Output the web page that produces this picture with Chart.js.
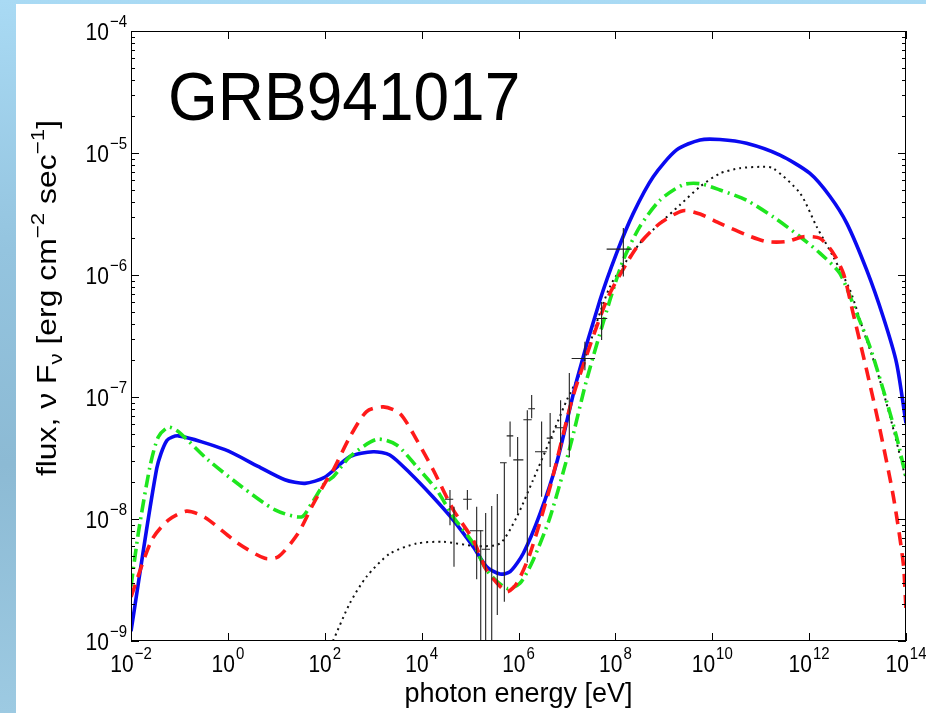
<!DOCTYPE html>
<html>
<head>
<meta charset="utf-8">
<title>GRB941017 spectrum</title>
<script src="https://cdn.jsdelivr.net/npm/chart.js@4.4.0/dist/chart.umd.min.js"></script>
<style>
  html, body { margin: 0; padding: 0; }
  body {
    width: 926px; height: 713px; overflow: hidden; position: relative;
    background: linear-gradient(to bottom, #a9daf4 0%, #94c4df 35%, #8cbad4 65%, #9dcae2 100%);
  }
  #panel { position: absolute; left: 16px; top: 4px; right: 0; bottom: 0; background: #fff; }
  #wrap { position: absolute; left: 0; top: 0; width: 926px; height: 713px; }
</style>
</head>
<body>
<div id="panel"></div>
<div id="wrap"><canvas id="sed" width="926" height="713"></canvas></div>
<script>
// photon energy [eV] and nu F_nu flux [erg cm^-2 s^-1] of the model curves

// solid blue model
const blueE = [1e-2, 3.4e-2, 5.5e-2, 9.5e-2, 0.87, 4.2, 15, 39, 100, 330, 1000, 2200, 5800, 1.7e4, 4.5e4,
  1.17e5, 2.2e5, 4.15e5, 6.7e5, 1.26e6, 2.8e6, 6.1e6, 1.6e7, 4.8e7, 1.06e8, 2.34e8, 6.05e8, 1.84e9,
  5.6e9, 1.44e10, 5.1e10, 2.5e11, 1.04e12, 2.7e12, 6.0e12, 1.54e13, 3.4e13, 6.4e13, 1e14];
const blueF = [1.2e-9, 2.6e-8, 4.4e-8, 4.8e-8, 3.7e-8, 2.7e-8, 2.1e-8, 1.96e-8, 2.2e-8, 3.24e-8, 3.56e-8,
  3.35e-8, 2.37e-8, 1.52e-8, 9.8e-9, 5.9e-9, 4.06e-9, 3.54e-9, 3.7e-9, 5.24e-9, 1.11e-8, 2.86e-8, 1.38e-7,
  6.2e-7, 1.51e-6, 3.2e-6, 6.4e-6, 1.06e-5, 1.28e-5, 1.29e-5, 1.2e-5, 9.6e-6, 6.8e-6, 4.4e-6, 2.65e-6,
  1.1e-6, 4.5e-7, 1.89e-7, 6.1e-8];

// green dash-dot model
const greenE = [1e-2, 1.42e-2, 2.47e-2, 3.66e-2, 5.9e-2, 9.5e-2, 0.39, 1.93, 9.4, 33, 54, 100, 150, 330,
  1180, 3050, 7900, 2.05e4, 4.5e4, 1.17e5, 2.2e5, 5.7e5, 1.07e6, 2.0e6, 4.5e6, 1.16e7, 2.55e7, 7.7e7,
  1.46e8, 3.2e8, 8.3e8, 2.5e9, 5.6e9, 1.44e10, 5.1e10, 1.8e11, 6.5e11, 1.67e12, 4.3e12, 9.6e12, 1.8e13,
  3.4e13, 6.4e13, 1e14];
const greenF = [2.8e-9, 7.7e-9, 2.7e-8, 4.7e-8, 5.65e-8, 5.2e-8, 3.05e-8, 1.84e-8, 1.19e-8, 1.04e-8,
  1.35e-8, 1.97e-8, 2.22e-8, 3.24e-8, 4.5e-8, 4.05e-8, 2.69e-8, 1.73e-8, 1.04e-8, 6.3e-9, 3.8e-9, 2.7e-9,
  2.97e-9, 4.6e-9, 1.04e-8, 3.9e-8, 1.38e-7, 6.2e-7, 1.33e-6, 2.49e-6, 4.1e-6, 5.5e-6, 5.6e-6, 4.98e-6,
  4.1e-6, 3.0e-6, 2.06e-6, 1.51e-6, 1.03e-6, 4.85e-7, 2.58e-7, 1.14e-7, 4.7e-8, 2.2e-8];

// red dashed model
const redE = [1e-2, 2.67e-2, 5.9e-2, 0.141, 0.337, 1.64, 5.8, 11, 28, 54, 100, 150, 330, 730, 1620, 3600,
  7900, 1.74e4, 4.5e4, 1.17e5, 2.2e5, 5.7e5, 9.2e5, 1.73e6, 4.5e6, 1.16e7, 1.71e7, 6.6e7, 1.71e8, 3.2e8,
  8.3e8, 2.5e9, 5.6e9, 1.44e10, 5.1e10, 1.33e11, 3.44e11, 7.6e11, 1.67e12, 3.15e12, 5.1e12, 8.1e12,
  1.54e13, 2.9e13, 5.5e13, 8.8e13, 1e14];
const redF = [2.3e-9, 6.7e-9, 9.8e-9, 1.16e-8, 1.03e-8, 6.3e-9, 4.76e-9, 4.9e-9, 7.6e-9, 1.26e-8, 1.96e-8,
  2.52e-8, 4.7e-8, 7.6e-8, 8.3e-8, 7.3e-8, 4.45e-8, 2.52e-8, 1.19e-8, 6.7e-9, 3.8e-9, 2.54e-9, 2.97e-9,
  5.2e-9, 1.84e-8, 8.3e-8, 1.38e-7, 6.2e-7, 1.25e-6, 1.82e-6, 2.65e-6, 3.37e-6, 3.16e-6, 2.65e-6, 2.13e-6,
  1.88e-6, 1.88e-6, 2.06e-6, 2.0e-6, 1.51e-6, 1.03e-6, 4.85e-7, 1.66e-7, 5.4e-8, 1.52e-8, 4.3e-9, 1.8e-9];

// black dotted model
const dotE = [148, 330, 730, 2200, 7900, 2.8e4, 1.37e5, 4.15e5, 9.2e5, 2.0e6, 4.5e6, 9.9e6, 1.86e7, 7.7e7,
  3.2e8, 8.3e8, 2.15e9, 5.6e9, 1.44e10, 3.7e10, 9.7e10, 1.8e11, 6.5e11, 1.43e12, 3.15e12, 7.0e12, 1.31e13,
  2.5e13, 4.7e13, 1e14];
const dotF = [1e-9, 2.04e-9, 3.37e-9, 5.2e-9, 6.3e-9, 6.5e-9, 6.0e-9, 6.3e-9, 1.04e-8, 2.09e-8, 4.45e-8,
  9.4e-8, 1.57e-7, 8.0e-7, 1.82e-6, 2.65e-6, 3.75e-6, 5.3e-6, 6.8e-6, 7.5e-6, 7.7e-6, 7.5e-6, 4.68e-6,
  2.49e-6, 1.41e-6, 7.5e-7, 3.54e-7, 1.66e-7, 6.9e-8, 2.1e-8];

// measured points: centre, flux error range and energy bin
const ptE   = [3.85e4, 4.66e4, 8.8e4, 1.37e5, 1.66e5, 2.1e5, 2.8e5, 3.65e5, 5.1e5, 6.7e5, 9.6e5, 1.52e6,
  1.87e6, 3.0e6, 4.5e6, 7.4e6, 1.12e7, 2.35e7, 5.2e7, 1.46e8];
const ptF   = [1.45e-8, 8.1e-9, 1.45e-8, 8.0e-9, 4.6e-9, 5.65e-9, 8.1e-9, 5.0e-9, 2.89e-8, 4.8e-8, 3.05e-8,
  6.5e-8, 8.0e-8, 3.56e-8, 4.6e-8, 5.6e-8, 9.4e-8, 2.07e-7, 4.4e-7, 1.63e-6];
const ptFLo = [8.9e-9, 4.06e-9, 1.19e-8, 3.2e-9, 1e-10, 1e-10, 1e-10, 1.63e-9, 2.1e-9, 3.24e-8, 1.11e-8,
  4.4e-9, 6.7e-8, 1.52e-8, 2.67e-8, 3.7e-8, 3.2e-8, 1.66e-7, 2.93e-7, 9.7e-7];
const ptFHi = [1.73e-8, 1.26e-8, 1.73e-8, 1.26e-8, 8.1e-9, 1.12e-8, 1.28e-8, 1.6e-8, 2.89e-8, 6.3e-8, 4.7e-8,
  7.8e-8, 1.04e-7, 6.3e-8, 7.4e-8, 9.4e-8, 1.57e-7, 2.84e-7, 6.0e-7, 2.43e-6];
const ptELo = [3.04e4, 4.66e4, 7.2e4, 9.95e4, 1.66e5, 1.74e5, 2.8e5, 3.65e5, 4.15e5, 5.7e5, 7.8e5, 1.26e6,
  1.59e6, 2.19e6, 3.82e6, 5.66e6, 1.12e7, 1.25e7, 4.0e7, 6.6e7];
const ptEHi = [4.5e4, 4.66e4, 1.08e5, 1.88e5, 1.66e5, 2.58e5, 2.8e5, 3.65e5, 5.7e5, 7.8e5, 1.26e6, 1.87e6,
  2.19e6, 3.82e6, 5.2e6, 8.4e6, 1.12e7, 3.8e7, 6.8e7, 2.17e8];

// axis decades
const xTickExp = [-2, 0, 2, 4, 6, 8, 10, 12, 14];
const yTickExp = [-9, -8, -7, -6, -5, -4];

const plotTitle = 'GRB941017';
const xTitle = 'photon energy [eV]';

const fontFamily = '"Liberation Sans", Arial, Helvetica, sans-serif';
const stretch = 1.12; // the figure's lettering is a little taller than wide
const toXY = (es, fs) => es.map((e, i) => ({ x: e, y: fs[i] }));

function tallText(ctx, text, x, y, sy) {
  ctx.save();
  ctx.translate(x, y);
  ctx.scale(1, sy);
  ctx.fillText(text, 0, 0);
  ctx.restore();
}

// "10" with a raised exponent
function powLabel(ctx, exp, x, y, anchor) {
  const base = '10';
  const sup = String(exp).replace('-', '\u2212');
  ctx.font = '21px ' + fontFamily;
  const wb = ctx.measureText(base).width;
  ctx.font = '15px ' + fontFamily;
  const ws = ctx.measureText(sup).width;
  const total = wb + 1 + ws;
  const x0 = anchor === 'right' ? x - total : x - total / 2;
  ctx.textAlign = 'left';
  ctx.textBaseline = 'alphabetic';
  ctx.font = '21px ' + fontFamily;
  tallText(ctx, base, x0, y, stretch);
  ctx.font = '15px ' + fontFamily;
  tallText(ctx, sup, x0 + wb + 1, y - 13, stretch);
}

// error crosses for the measured points
const errorBars = {
  id: 'errorBars',
  afterDatasetsDraw(chart) {
    const { ctx, chartArea: a, scales: { x, y } } = chart;
    ctx.save();
    ctx.beginPath();
    ctx.rect(a.left, a.top, a.right - a.left, a.bottom - a.top);
    ctx.clip();
    ctx.strokeStyle = '#222';
    ctx.lineWidth = 1.1;
    ptE.forEach((e, i) => {
      const px = x.getPixelForValue(e);
      const py = y.getPixelForValue(ptF[i]);
      ctx.beginPath();
      ctx.moveTo(px, y.getPixelForValue(ptFLo[i]));
      ctx.lineTo(px, y.getPixelForValue(ptFHi[i]));
      if (ptEHi[i] > ptELo[i]) {
        ctx.moveTo(x.getPixelForValue(ptELo[i]), py);
        ctx.lineTo(x.getPixelForValue(ptEHi[i]), py);
      }
      ctx.stroke();
    });
    ctx.restore();
  }
};

// box, inward ticks, tick labels and axis titles
const frame = {
  id: 'frame',
  afterDraw(chart) {
    const { ctx, chartArea: a, scales: { x, y } } = chart;
    ctx.save();
    ctx.strokeStyle = '#000';
    ctx.fillStyle = '#000';
    ctx.lineWidth = 1;
    ctx.strokeRect(a.left + 0.5, a.top + 0.5, a.right - a.left - 1, a.bottom - a.top - 1);

    ctx.beginPath();
    xTickExp.forEach(p => {
      const px = Math.round(x.getPixelForValue(Math.pow(10, p))) + 0.5;
      ctx.moveTo(px, a.bottom); ctx.lineTo(px, a.bottom - 8);
      ctx.moveTo(px, a.top); ctx.lineTo(px, a.top + 8);
    });
    yTickExp.forEach((p, k) => {
      const py = Math.round(y.getPixelForValue(Math.pow(10, p))) + 0.5;
      ctx.moveTo(a.left, py); ctx.lineTo(a.left + 8, py);
      ctx.moveTo(a.right, py); ctx.lineTo(a.right - 8, py);
      if (k < yTickExp.length - 1) {
        for (let m = 2; m <= 9; m++) {
          const qy = Math.round(y.getPixelForValue(m * Math.pow(10, p))) + 0.5;
          ctx.moveTo(a.left, qy); ctx.lineTo(a.left + 4, qy);
          ctx.moveTo(a.right, qy); ctx.lineTo(a.right - 4, qy);
        }
      }
    });
    ctx.stroke();

    xTickExp.forEach(p => powLabel(ctx, p, x.getPixelForValue(Math.pow(10, p)), a.bottom + 31, 'center'));
    yTickExp.forEach(p => powLabel(ctx, p, a.left - 4, y.getPixelForValue(Math.pow(10, p)) + 9, 'right'));

    // x title
    ctx.font = '27px ' + fontFamily;
    ctx.textAlign = 'center';
    tallText(ctx, xTitle, (a.left + a.right) / 2, 702, 1.04);

    // y title with sub/superscripts, rotated and spread along its length
    const parts = [
      ['flux, \u03bd F', 0], ['\u03bd', 1], [' [erg cm', 0], ['\u22122', 2], [' sec', 0], ['\u22121', 2], [']', 0]
    ];
    const fontFor = s => (s === 0 ? '27px ' : '19px ') + fontFamily;
    let total = 0;
    parts.forEach(([t, s]) => { ctx.font = fontFor(s); total += ctx.measureText(t).width; });
    ctx.translate(56, 298);
    ctx.rotate(-Math.PI / 2);
    ctx.scale(1.18, 1);
    ctx.textAlign = 'left';
    let cx = -total / 2;
    parts.forEach(([t, s]) => {
      ctx.font = fontFor(s);
      const dy = s === 1 ? 6 : s === 2 ? -12 : 0;
      ctx.fillText(t, cx, dy);
      cx += ctx.measureText(t).width;
    });
    ctx.setTransform(1, 0, 0, 1, 0, 0);

    // burst name inside the axes
    ctx.font = '64px ' + fontFamily;
    ctx.textAlign = 'left';
    tallText(ctx, plotTitle, a.left + 37, a.top + 89, 1.08);
    ctx.restore();
  }
};

const lineDefaults = { pointRadius: 0, fill: false, tension: 0.25, borderCapStyle: 'butt' };

new Chart(document.getElementById('sed').getContext('2d'), {
  type: 'line',
  data: {
    datasets: [
      Object.assign({ label: 'red', data: toXY(redE, redF), borderColor: '#ff1a1a', borderWidth: 3.6,
        borderDash: [13, 8], order: 0 }, lineDefaults),
      Object.assign({ label: 'green', data: toXY(greenE, greenF), borderColor: '#1ee61e', borderWidth: 3.6,
        borderDash: [13, 5, 2, 5], order: 1 }, lineDefaults),
      Object.assign({ label: 'blue', data: toXY(blueE, blueF), borderColor: '#0a0af0', borderWidth: 3.6,
        order: 2 }, lineDefaults),
      Object.assign({ label: 'dotted', data: toXY(dotE, dotF), borderColor: '#111', borderWidth: 2,
        borderDash: [2, 4], order: 3 }, lineDefaults)
    ]
  },
  options: {
    responsive: false,
    animation: false,
    devicePixelRatio: 1,
    layout: { padding: { top: 31, right: 20, left: 0, bottom: 0 } },
    plugins: { legend: { display: false }, tooltip: { enabled: false } },
    scales: {
      x: {
        type: 'logarithmic', min: 1e-2, max: 1e14,
        ticks: { display: false }, grid: { display: false }, border: { display: false },
        afterFit(s) { s.height = 72; }
      },
      y: {
        type: 'logarithmic', min: 1e-9, max: 1e-4,
        ticks: { display: false }, grid: { display: false }, border: { display: false },
        afterFit(s) { s.width = 131; }
      }
    }
  },
  plugins: [errorBars, frame]
});
</script>
</body>
</html>
